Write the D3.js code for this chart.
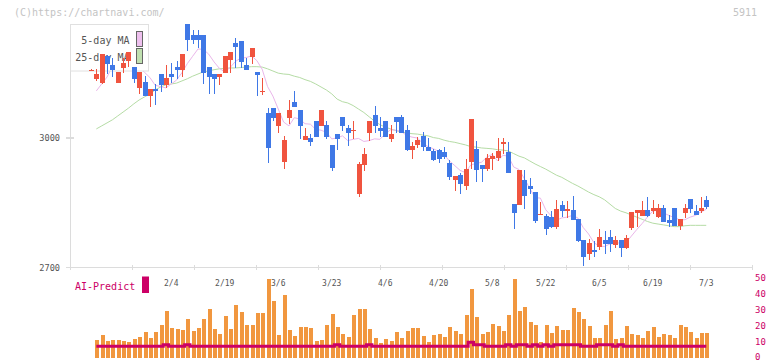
<!DOCTYPE html>
<html><head><meta charset="utf-8">
<script src="https://cdn.jsdelivr.net/npm/d3@7"></script>
<style>html,body{margin:0;padding:0;background:#fff;} svg{display:block;}</style>
</head><body><div id="chart"></div>
<script>
// ---- data (index 0 = first trading day shown) ----
const openP  = [3157,3137,3127,3190,3169,3127,3162,3177,3164,3116,3130,3097,3113,3148,3123,3148,3164,3157,3264,3238,3238,3238,3164,3148,3141,3150,3180,3220,3224,3169,3187,3153,3108,3058,3069,3028,2945,3046,3083,3065,2995,3000,3039,3028,3030,2984,3009,3049,3023,3017,2871,2938,3012,3053,3023,3039,2998,3049,3049,3018,2972,2984,3005,2979,2970,2972,2968,2942,2903,2914,2889,2945,2975,2938,2928,2951,2954,2986,2968,2847,2845,2903,2889,2875,2823,2820,2817,2794,2845,2831,2834,2813,2764,2732,2741,2748,2764,2771,2753,2764,2746,2792,2827,2820,2834,2831,2817,2838,2810,2838,2797,2827,2859,2831,2831,2857];
const highP  = [3159,3160,3195,3191,3184,3153,3184,3200,3165,3153,3143,3114,3125,3148,3169,3174,3178,3195,3264,3250,3250,3238,3165,3149,3149,3190,3199,3231,3225,3185,3209,3153,3139,3069,3070,3058,3005,3088,3109,3065,3023,3009,3040,3065,3039,2984,3010,3049,3030,3039,2945,2977,3040,3074,3049,3040,3030,3049,3053,3030,2991,3002,3014,3000,2975,2975,2979,2949,2912,2919,2951,3044,2993,2938,2963,2965,3000,3000,2991,2848,2926,2926,2908,2875,2852,2824,2831,2857,2854,2854,2866,2813,2764,2766,2762,2790,2785,2787,2773,2764,2776,2829,2834,2854,2864,2857,2847,2845,2822,2838,2813,2847,2859,2845,2864,2866];
const lowP   = [3157,3132,3126,3147,3141,3127,3150,3164,3127,3102,3097,3072,3076,3106,3116,3127,3137,3141,3201,3217,3208,3125,3102,3102,3123,3150,3150,3162,3162,3157,3171,3097,3099,2942,3040,3012,2928,3032,3071,2998,2995,2982,3002,3027,2998,2924,2972,3016,2982,2998,2864,2924,2993,3012,3002,3002,2991,3012,3011,2970,2952,2977,2970,2970,2947,2942,2951,2903,2877,2870,2880,2928,2898,2898,2924,2926,2947,2963,2919,2790,2845,2836,2870,2803,2822,2776,2792,2790,2817,2815,2810,2760,2704,2718,2725,2741,2732,2736,2746,2725,2743,2787,2794,2820,2817,2824,2815,2805,2794,2796,2787,2815,2827,2822,2827,2836];
const closeP = [3158,3148,3194,3172,3157,3153,3174,3200,3137,3153,3097,3113,3109,3123,3139,3141,3157,3194,3227,3227,3227,3150,3141,3137,3148,3190,3199,3210,3176,3157,3208,3146,3109,2977,3046,3058,2995,3065,3072,3028,3005,2991,3002,3065,3002,2931,2998,3028,3012,3018,2940,2963,3039,3028,3016,3002,3009,3037,3012,2972,2982,2995,2979,2970,2949,2951,2956,2910,2912,2894,2928,3044,2926,2928,2954,2958,2970,2991,2919,2827,2926,2866,2882,2808,2824,2790,2794,2836,2831,2836,2810,2762,2725,2757,2736,2771,2755,2755,2764,2746,2769,2829,2834,2834,2820,2838,2838,2806,2803,2797,2813,2838,2836,2822,2838,2840];
const ma5    = [null,3109,3125,3141,3166,3165,3170,3171,3164,3163,3152,3140,3122,3119,3116,3125,3134,3151,3172,3189,3206,3205,3194,3176,3161,3153,3163,3177,3185,3186,3190,3179,3159,3119,3097,3067,3037,3028,3047,3044,3033,3032,3020,3018,3013,2998,3000,3005,2994,2997,2999,2992,2994,2998,2997,3010,3019,3018,3015,3006,3002,3000,2988,2980,2975,2969,2961,2947,2936,2925,2920,2938,2941,2944,2956,2962,2947,2960,2958,2933,2927,2906,2884,2862,2861,2834,2820,2810,2815,2817,2821,2815,2793,2778,2758,2750,2749,2755,2756,2758,2758,2773,2788,2802,2817,2831,2833,2827,2821,2816,2811,2811,2817,2821,2829,2835];
const ma25   = [null,3021,3028,3035,3042,3051,3060,3069,3079,3088,3095,3102,3111,3118,3123,3125,3127,3132,3137,3143,3148,3153,3155,3158,3160,3161,3162,3162,3163,3164,3165,3165,3164,3160,3155,3150,3148,3147,3143,3140,3135,3131,3125,3118,3111,3102,3090,3084,3081,3075,3067,3059,3049,3039,3031,3025,3021,3017,3014,3012,3010,3009,3007,3005,3001,2999,2995,2992,2990,2987,2984,2980,2979,2977,2976,2975,2973,2972,2970,2964,2958,2954,2947,2940,2934,2928,2921,2914,2909,2902,2895,2889,2882,2875,2869,2864,2857,2847,2837,2831,2827,2822,2817,2812,2807,2803,2801,2799,2797,2795,2795,2797,2798,2798,2798,2798];
const volume = [null,11.1,14.3,10.5,11.1,11.1,10.5,9.9,11.8,13,16.2,12.4,16.2,20.6,29.4,18.7,18.1,17.4,24.3,16.8,18.7,24.3,30.6,18.1,14.9,26.2,18.1,33.2,28.8,20.6,20.6,28.1,28.1,49.5,35.7,14.3,39.5,17.4,13.6,19.3,19.3,18.7,10.5,11.1,20.6,27.5,19.3,14.9,13,26.9,30.6,30.6,18.1,12.4,9.2,11.8,10.5,16.2,12.4,16.8,18.7,18.7,13.6,9.9,14.3,14.9,13,19.3,16.8,14.9,26.9,43.2,25.6,14.9,16.2,21.2,19.9,16.8,26.9,49.5,29.4,31.9,22.5,20.6,9.9,20.6,15.5,19.9,17.4,17.4,31.3,28.8,24.3,19.9,12.4,12.4,20.6,29.4,11.8,12.4,19.9,14.9,14.3,12.4,16.8,19.3,13,14.9,14.3,12.4,20.6,19.3,16.2,12.4,15.5,15.5];
const aiPredict = [null,7.2,7.2,7.2,7.2,7.2,7.2,7.2,7.2,7.2,7.2,7.2,7.2,7.2,8.2,7.2,7.2,7.2,8.2,7.2,7.2,7.2,7.2,7.2,7.2,7.2,7.2,7.2,7.2,7.2,7.2,7.2,7.2,7.2,7.2,7.2,7.2,7.2,7.2,7.2,7.2,7.2,7.2,7.2,7.2,7.2,8.2,7.2,7.2,7.2,7.2,7.2,8.2,7.2,7.2,7.2,7.2,7.2,7.2,7.2,7.2,7.2,7.2,7.2,7.2,7.2,7.2,7.2,7.2,7.2,7.2,9.8,8.2,8.2,7.2,7.2,7.2,7.2,8.2,7.2,8.2,8.2,7.2,8.2,7.2,8.2,7.2,8.2,8.2,8.2,8.2,8.2,7.2,7.2,7.2,8.2,8.2,8.2,7.2,8.2,7.2,7.2,7.2,7.2,7.2,7.2,7.2,7.2,7.2,7.2,7.2,7.2,7.2,7.2,7.2,7.2];
const dateLabels = ["2/4","2/19","3/6","3/23","4/6","4/20","5/8","5/22","6/5","6/19","7/3"];
const dateIndex  = [15,25,35,45,55,65,75,85,95,105,115];
const priceTicks = [2700,3000];
const volTicks   = [0,10,20,30,40,50];
const gridTicks  = [0,1,2,3,4,5,6,7,8,9,10,11];

// ---- drawing ----
const W = 772, H = 361;
const FONT = '"DejaVu Sans Mono", "Liberation Mono", monospace';
const svg = d3.select('#chart').append('svg').attr('width', W).attr('height', H)
  .style('font-family', FONT);

const n = closeP.length;
const idx = d3.range(n);
const x  = d3.scaleLinear().domain([0, n - 1]).range([91, 706.25]);
const y  = d3.scaleLinear().domain([2700, 3000]).range([267.7, 138]);
const yv = d3.scaleLinear().domain([0, 50]).range([357.7, 278.3]);
const xg = d3.scaleLinear().domain([0, 11]).range([70.5, 752.5]);

const UP = '#f0543f', DOWN = '#3f78e6', AXIS = '#dcdcdc';

// header texts
svg.append('text').attr('x', 14).attr('y', 16).attr('font-size', 10).attr('fill', '#c4c4c4')
  .text('(C)https://chartnavi.com/');
svg.append('text').attr('x', 757).attr('y', 16).attr('font-size', 10).attr('fill', '#c4c4c4')
  .attr('text-anchor', 'end').text('5911');

// axes
const ax = svg.append('g').attr('stroke', AXIS).attr('stroke-width', 1.3).attr('shape-rendering', 'crispEdges');
ax.append('line').attr('x1', xg(0)).attr('x2', xg(0)).attr('y1', 24).attr('y2', y(2700));
ax.append('line').attr('x1', xg(0)).attr('x2', xg(11)).attr('y1', y(2700)).attr('y2', y(2700));
ax.selectAll('.gt').data(gridTicks).join('line')
  .attr('x1', d => xg(d)).attr('x2', d => xg(d)).attr('y1', y(2700) - 3).attr('y2', y(2700) + 2.5);
ax.selectAll('.pt').data(priceTicks).join('line')
  .attr('x1', 65.5).attr('x2', 73.5).attr('y1', d => y(d)).attr('y2', d => y(d));

svg.selectAll('.plab').data(priceTicks).join('text')
  .attr('x', 60).attr('y', d => y(d) + 3).attr('text-anchor', 'end')
  .attr('font-size', 8.6).attr('fill', '#555').text(d => d);

// moving averages
const lineOf = arr => d3.line().defined(i => arr[i] != null).x(i => x(i)).y(i => y(arr[i]));
svg.append('path').attr('d', lineOf(ma25)(idx)).attr('fill', 'none')
  .attr('stroke', '#b5dca5').attr('stroke-width', 1);
svg.append('path').attr('d', lineOf(ma5)(idx)).attr('fill', 'none')
  .attr('stroke', '#eab6ea').attr('stroke-width', 1);

// legend
const lg = svg.append('g');
lg.append('rect').attr('x', 70.5).attr('y', 24.5).attr('width', 78).attr('height', 46.5)
  .attr('fill', '#fff').attr('stroke', '#e0e0e0');
lg.append('text').attr('x', 129.5).attr('y', 44).attr('text-anchor', 'end').attr('font-size', 10)
  .attr('fill', '#555').text('5-day MA');
lg.append('text').attr('x', 129.5).attr('y', 61).attr('text-anchor', 'end').attr('font-size', 10)
  .attr('fill', '#555').text('25-day MA');
lg.append('rect').attr('x', 136.5).attr('y', 31.5).attr('width', 6).attr('height', 15)
  .attr('fill', '#eec0ee').attr('stroke', '#666');
lg.append('rect').attr('x', 136.5).attr('y', 48.5).attr('width', 6).attr('height', 15)
  .attr('fill', '#c0e0b0').attr('stroke', '#666');

// candles
const cg = svg.append('g').attr('shape-rendering', 'crispEdges');
const col = i => closeP[i] >= openP[i] ? UP : DOWN;
cg.selectAll('.wick').data(idx).join('line')
  .attr('x1', i => Math.round(x(i)) + 0.5).attr('x2', i => Math.round(x(i)) + 0.5)
  .attr('y1', i => y(highP[i])).attr('y2', i => y(lowP[i]))
  .attr('stroke', col).attr('stroke-width', 1);
cg.selectAll('.body').data(idx).join('rect')
  .attr('x', i => Math.round(x(i)) - 2).attr('width', 5)
  .attr('y', i => y(Math.max(openP[i], closeP[i])))
  .attr('height', i => Math.max(1, Math.abs(y(openP[i]) - y(closeP[i]))))
  .attr('fill', col);

// date labels
svg.selectAll('.dl').data(dateLabels).join('text')
  .attr('x', (d, k) => x(dateIndex[k])).attr('y', 285.5).attr('text-anchor', 'middle')
  .attr('font-size', 8).attr('fill', '#555').text(d => d);

// AI-Predict label
svg.append('text').attr('x', 75).attr('y', 290).attr('font-size', 10).attr('fill', '#cc0066').text('AI-Predict');
svg.append('rect').attr('x', 142).attr('y', 276.5).attr('width', 7).attr('height', 16.5).attr('fill', '#cc0066');

// volume bars
const vIdx = idx.filter(i => volume[i] != null);
svg.append('g').attr('shape-rendering', 'crispEdges').selectAll('rect').data(vIdx).join('rect')
  .attr('x', i => Math.round(x(i)) - 1.5).attr('width', 4)
  .attr('y', i => yv(volume[i])).attr('height', i => yv(0) - yv(volume[i]))
  .attr('fill', '#f1973f');

// AI predict line
svg.append('path')
  .attr('d', d3.line().defined(i => aiPredict[i] != null).x(i => x(i)).y(i => yv(aiPredict[i])).curve(d3.curveStep)(idx))
  .attr('fill', 'none').attr('stroke', '#cc0066').attr('stroke-width', 3);

// volume axis labels
svg.selectAll('.vl').data(volTicks).join('text')
  .attr('x', 755).attr('y', d => yv(d) + 3).attr('font-size', 9).attr('fill', '#cc0066')
  .text(d => Math.min(yv(d) + 3, 359.5) === yv(d) + 3 ? d : d)
  .attr('y', d => Math.min(yv(d) + 3, 359.5));
</script>
</body></html>
